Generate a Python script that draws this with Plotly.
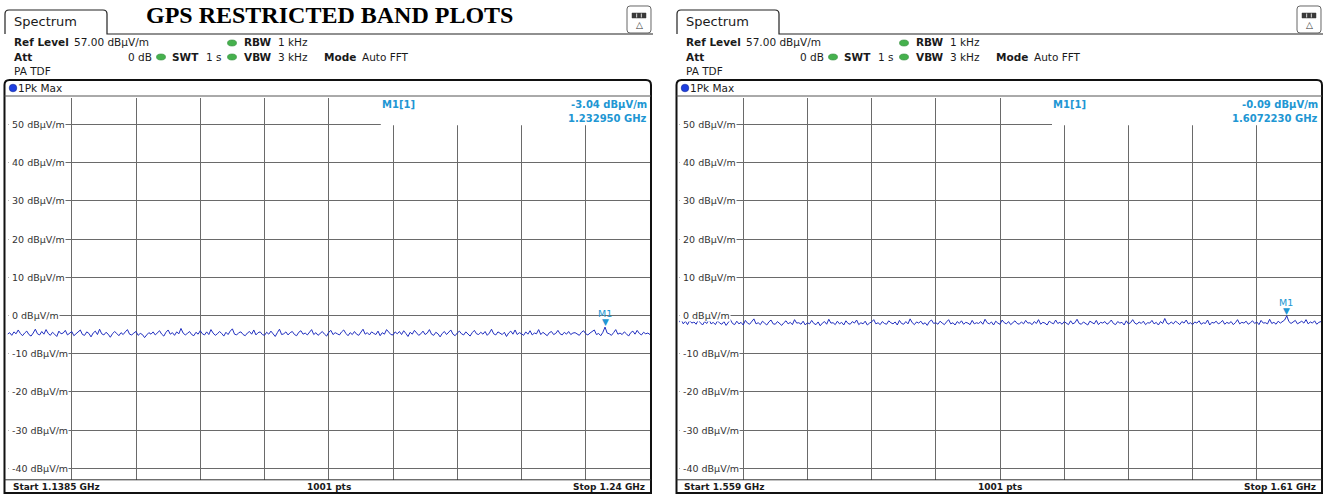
import numpy as np
import plotly.graph_objects as go

W, H = 1323, 498

# Analyzer settings shared by both sweeps
ref_level = 57.0                      # dBµV/m at the top of the display
y_ticks = [50, 40, 30, 20, 10, 0, -10, -20, -30, -40]
rbw_khz = 1
vbw_khz = 3
att_db = 0
swt_s = 1

start_ghz = [1.1385, 1.559]
stop_ghz = [1.24, 1.61]
sweep_pts = [1001, 1001]

# Max-hold peak trace, 1.1385 - 1.24 GHz (dBµV/m)
trace_low_band = [
    -4.9, -4.5, -5.2, -4.3, -4.8, -3.8, -4.7, -5.3, -4.6, -4.1, -5.0, -5.4, -4.6, -3.6, -4.8, -5.1, -4.2, -4.9, -3.7, -4.7,
    -5.2, -4.4, -4.9, -5.5, -4.1, -4.8, -4.6, -3.9, -5.1, -4.7, -4.2, -5.3, -4.8, -4.4, -3.8, -5.0, -5.2, -4.3, -4.7, -5.6,
    -4.6, -4.1, -5.0, -3.6, -4.8, -5.1, -4.4, -4.9, -5.7, -4.8, -4.2, -4.7, -5.3, -4.5, -5.0, -4.3, -3.7, -4.9, -5.1, -4.6,
    -4.2, -5.2, -4.7, -5.0, -5.8, -5.1, -4.5, -4.9, -4.3, -5.1, -4.6, -4.0, -4.9, -5.4, -4.4, -3.8, -4.9, -4.5, -5.2, -4.3,
    -4.8, -3.4, -4.6, -5.1, -4.7, -4.2, -5.0, -5.3, -4.4, -4.9, -4.0, -4.8, -5.1, -4.3, -5.0, -3.7, -4.6, -5.2, -4.8, -4.2,
    -4.7, -5.4, -4.4, -5.0, -4.1, -3.5, -4.9, -5.1, -4.5, -4.3, -5.0, -5.3, -4.6, -4.2, -4.9, -3.8, -5.1, -4.5, -4.3, -5.0,
    -5.2, -4.4, -4.9, -4.1, -4.8, -5.5, -4.5, -3.6, -5.0, -4.8, -4.3, -5.1, -4.5, -4.2, -5.0, -5.3, -4.4, -4.0, -4.9, -4.6,
    -5.1, -4.3, -3.7, -5.0, -4.5, -5.2, -4.6, -4.2, -4.9, -5.4, -4.4, -3.9, -5.0, -4.5, -4.8, -5.1, -4.3, -3.8, -4.7, -5.3,
    -4.5, -5.0, -4.2, -4.9, -5.2, -4.4, -3.6, -4.9, -4.5, -5.1, -4.3, -4.7, -5.0, -4.1, -5.3, -4.5, -4.9, -3.7, -4.4, -5.0,
    -5.1, -4.3, -4.8, -4.2, -5.0, -4.0, -4.7, -5.5, -4.4, -4.9, -3.9, -4.6, -5.2, -4.8, -4.1, -5.0, -4.6, -3.7, -4.9, -5.2,
    -4.4, -4.8, -5.6, -4.7, -4.2, -5.0, -4.5, -3.8, -4.9, -5.3, -4.6, -4.1, -4.8, -5.1, -4.3, -4.9, -5.4, -4.5, -3.9, -4.8,
    -5.0, -4.4, -4.9, -4.2, -5.2, -4.6, -3.6, -4.8, -5.1, -4.3, -4.7, -5.0, -4.4, -5.5, -4.6, -4.1, -4.9, -3.8, -5.0, -4.5,
    -4.8, -5.2, -4.3, -4.9, -4.0, -5.1, -4.6, -4.8, -3.7, -5.0, -4.4, -4.9, -5.3, -4.5, -4.2, -5.0, -4.7, -3.9, -4.8, -5.1,
    -4.4, -4.9, -4.2, -5.0, -4.6, -4.5, -4.9, -5.2, -4.4, -4.0, -4.8, -5.1, -4.6, -4.3, -3.8, -5.0, -4.7, -5.3, -4.4, -3.04,
    -4.6, -4.8, -5.2, -4.5, -3.7, -4.9, -4.6, -5.0, -4.3, -4.8, -5.4, -4.5, -4.1, -4.9, -3.9, -4.7, -5.1, -4.4, -4.8, -4.6,
    -5.0,
]

# Max-hold peak trace, 1.559 - 1.61 GHz (dBµV/m)
trace_high_band = [
    -1.8, -1.0, -2.2, -1.5, -2.4, -1.3, -2.0, -1.7, -2.3, -1.2, -1.9, -2.5, -1.6, -2.1, -1.0, -2.2, -1.8, -2.4, -1.4, -2.0,
    -2.3, -1.6, -2.6, -1.9, -1.1, -2.1, -2.4, -1.5, -2.2, -1.8, -2.5, -1.3, -2.0, -2.3, -1.6, -0.9, -2.2, -1.9, -2.4, -1.5,
    -2.0, -2.5, -1.7, -1.2, -2.2, -2.3, -1.6, -2.1, -2.6, -1.9, -1.4, -2.2, -1.8, -2.4, -1.1, -2.0, -1.9, -2.3, -1.5, -2.5,
    -1.9, -2.2, -1.3, -2.1, -2.4, -1.7, -2.7, -2.0, -1.6, -2.3, -1.0, -2.0, -1.9, -2.4, -1.5, -2.2, -1.8, -2.5, -1.4, -2.1,
    -2.3, -1.6, -2.0, -1.2, -2.4, -1.9, -2.2, -1.5, -2.5, -2.0, -1.7, -1.1, -2.2, -1.9, -2.4, -1.6, -2.1, -2.3, -1.4, -1.9,
    -2.2, -1.7, -2.5, -1.3, -2.1, -2.3, -1.6, -2.2, -0.9, -1.9, -2.4, -1.7, -2.0, -1.5, -2.3, -1.9, -2.6, -1.6, -1.2, -2.1,
    -1.9, -2.3, -1.5, -2.0, -2.4, -1.7, -1.1, -2.2, -1.9, -2.5, -1.6, -2.1, -1.4, -2.3, -1.8, -2.0, -2.4, -1.3, -2.2, -1.9,
    -2.1, -1.6, -2.3, -1.0, -1.9, -2.2, -1.7, -2.5, -1.5, -2.0, -2.3, -1.2, -1.9, -2.2, -1.6, -2.4, -1.9, -1.4, -2.1, -2.3,
    -1.7, -2.2, -1.3, -2.0, -1.9, -2.4, -1.6, -2.1, -1.1, -2.3, -1.8, -2.0, -2.5, -1.5, -1.9, -2.2, -1.2, -2.1, -1.8, -2.3,
    -1.6, -2.0, -2.4, -1.4, -2.2, -1.9, -1.0, -2.1, -2.3, -1.7, -2.0, -2.5, -1.5, -1.9, -2.2, -1.3, -2.4, -1.8, -2.0, -1.6,
    -2.3, -1.9, -1.2, -2.1, -2.4, -1.6, -2.0, -1.8, -2.5, -1.4, -2.2, -1.9, -1.1, -2.0, -2.3, -1.7, -2.1, -1.5, -2.4, -1.9,
    -2.0, -1.3, -2.2, -1.8, -2.5, -1.6, -2.1, -0.8, -2.0, -2.3, -1.7, -2.2, -1.5, -1.9, -2.4, -1.6, -2.0, -1.2, -2.2, -1.9,
    -2.4, -1.7, -2.0, -1.4, -2.3, -1.9, -2.1, -1.2, -2.5, -1.8, -2.0, -1.5, -2.2, -1.9, -1.3, -2.3, -1.8, -2.1, -1.6, -2.4,
    -1.9, -1.1, -2.2, -1.8, -2.0, -1.5, -2.3, -1.9, -1.4, -2.1, -1.7, -2.4, -1.3, -2.0, -1.9, -2.2, -1.0, -2.1, -1.8, -2.3,
    -1.5, -2.0, -1.7, -1.2, -0.09, -1.6, -2.1, -1.8, -1.3, -2.2, -1.9, -1.5, -2.0, -1.1, -2.2, -1.7, -2.0, -1.4, -2.3, -1.8,
    -1.6,
]

traces = [trace_low_band, trace_high_band]

marker_freq_ghz = [1.232950, 1.6072230]
marker_level = [-3.04, -0.09]
marker_freq_digits = [6, 7]

# ---------------------------------------------------------------- styling
FONT = "DejaVu Sans"
TRACE_BLUE = "#2230bf"
MARKER_BLUE = "#2196d3"
GRID = "#6a6a6a"
INK = "#1a1a1a"
LED_GREEN = "#45b14d"

PLOT_TOP, PLOT_BOTTOM = 97.6, 479.8
panels = [
    dict(dx=0, px0=7.5, px1=650.0, bx0=4.5, bx1=651.0, right=653.0),
    dict(dx=672, px0=679.0, px1=1321.0, bx0=676.5, bx1=1322.0, right=1323.0),
]


def fx(x):
    return x / W


def fy(y):
    return 1 - y / H


def pt(x, y):
    return f"{fx(x):.6f},{fy(y):.6f}"


def text(t, x, y, size=10.5, bold=False, color=INK, xanchor="left", family=FONT):
    return dict(text=f"<b>{t}</b>" if bold else t, x=fx(x), y=fy(y), xref="paper", yref="paper",
                xanchor=xanchor, yanchor="middle", showarrow=False, borderpad=0,
                font=dict(family=family, size=size, color=color))


def dot(cx, cy, rx, ry, color, edge):
    return dict(type="circle", xref="paper", yref="paper", x0=fx(cx - rx), x1=fx(cx + rx),
                y0=fy(cy + ry), y1=fy(cy - ry), fillcolor=color, line=dict(color=edge, width=0.6))


fig = go.Figure()
annotations = []
shapes = []
layout_axes = {}

for i, p in enumerate(panels):
    n = "" if i == 0 else str(i + 1)
    dx = p["dx"]
    start, stop = start_ghz[i], stop_ghz[i]
    levels = traces[i]
    freqs = np.linspace(start, stop, len(levels))

    layout_axes[f"xaxis{n}"] = dict(
        domain=[fx(p["px0"]), fx(p["px1"])], range=[start, stop],
        tickvals=list(np.linspace(start, stop, 11)), showticklabels=False, ticks="",
        showgrid=True, gridcolor=GRID, gridwidth=1, zeroline=False, showline=False,
        anchor=f"y{n}", fixedrange=True)
    layout_axes[f"yaxis{n}"] = dict(
        domain=[fy(PLOT_BOTTOM), fy(PLOT_TOP)], range=[ref_level - 100, ref_level],
        tickvals=y_ticks, showticklabels=False, ticks="",
        showgrid=True, gridcolor=GRID, gridwidth=1, zeroline=False, showline=False,
        anchor=f"x{n}", fixedrange=True)

    fig.add_trace(go.Scatter(x=freqs, y=levels, mode="lines", xaxis=f"x{n}", yaxis=f"y{n}",
                             line=dict(color=TRACE_BLUE, width=1), hoverinfo="skip", showlegend=False))

    # marker info area hides grid at the top right of the diagram
    shapes.append(dict(type="rect", xref=f"x{n} domain", yref=f"y{n}", x0=0.581, x1=1.0,
                       y0=49.75, y1=ref_level, fillcolor="white", line=dict(width=0), layer="above"))

    # "Spectrum" tab and the header rule
    x0, x1 = 5 + dx, 107 + dx
    shapes.append(dict(type="path", xref="paper", yref="paper",
                       path=(f"M {pt(x0, 34)} L {pt(x0, 14)} Q {pt(x0, 10)} {pt(x0 + 4, 10)} "
                             f"L {pt(x1 - 4, 10)} Q {pt(x1, 10)} {pt(x1, 14)} L {pt(x1, 34)} "
                             f"L {pt(p['right'], 34)}"),
                       line=dict(color="#222", width=1.2)))
    annotations.append(text("Spectrum", 13 + dx, 22, size=13))

    # display icon at the top right
    ix0, ix1 = p["right"] - 26, p["right"] - 2
    shapes.append(dict(type="path", xref="paper", yref="paper",
                       path=(f"M {pt(ix0 + 3, 6)} L {pt(ix1 - 3, 6)} Q {pt(ix1, 6)} {pt(ix1, 9)} "
                             f"L {pt(ix1, 30)} Q {pt(ix1, 33)} {pt(ix1 - 3, 33)} L {pt(ix0 + 3, 33)} "
                             f"Q {pt(ix0, 33)} {pt(ix0, 30)} L {pt(ix0, 9)} Q {pt(ix0, 6)} {pt(ix0 + 3, 6)} Z"),
                       fillcolor="white", line=dict(color="#666", width=1)))
    shapes.append(dict(type="rect", xref="paper", yref="paper", x0=fx(ix0 + 5), x1=fx(ix1 - 5),
                       y0=fy(18), y1=fy(13), fillcolor="#3a3a3a", line=dict(color="#3a3a3a", width=0.5)))
    for k in (1, 2):
        sx = ix0 + 5 + k * (ix1 - ix0 - 10) / 3
        shapes.append(dict(type="line", xref="paper", yref="paper", x0=fx(sx), x1=fx(sx),
                           y0=fy(17.5), y1=fy(13.5), line=dict(color="#ddd", width=1)))
    annotations.append(text("△", (ix0 + ix1) / 2, 25.5, size=9, color="#333", xanchor="center"))

    # instrument settings
    annotations += [
        text("Ref Level", 13 + dx, 42.5, bold=True),
        text(f"{ref_level:.2f} dBµV/m", 73 + dx, 42.5),
        text("RBW", 243 + dx, 42.5, bold=True),
        text(f"{rbw_khz} kHz", 277 + dx, 42.5),
        text("Att", 13 + dx, 57, bold=True),
        text(f"{att_db} dB", 153 + dx, 57, xanchor="right"),
        text("SWT", 171 + dx, 57, bold=True),
        text(f"{swt_s} s", 205 + dx, 57),
        text("VBW", 243 + dx, 57, bold=True),
        text(f"{vbw_khz} kHz", 277 + dx, 57),
        text("Mode", 323 + dx, 57, bold=True),
        text("Auto FFT", 361 + dx, 57),
        text("PA TDF", 13 + dx, 71),
        text("1Pk Max", 17 + dx, 88),
    ]
    for cx, cy in [(232, 43), (161, 57), (232, 57)]:
        shapes.append(dot(cx + dx, cy, 4.5, 3, LED_GREEN, "#2f8a37"))

    # trace window frame
    bx0, bx1, top, bottom, r = p["bx0"], p["bx1"], 80, 493, 5
    shapes.append(dict(type="path", xref="paper", yref="paper",
                       path=(f"M {pt(bx0, bottom)} L {pt(bx0, top + r)} Q {pt(bx0, top)} {pt(bx0 + r, top)} "
                             f"L {pt(bx1 - r, top)} Q {pt(bx1, top)} {pt(bx1, top + r)} L {pt(bx1, bottom)} Z"),
                       line=dict(color="#111", width=2)))
    shapes.append(dict(type="line", xref="paper", yref="paper", x0=fx(bx0), x1=fx(bx1),
                       y0=fy(96), y1=fy(96), line=dict(color="#555", width=1)))
    shapes.append(dict(type="line", xref="paper", yref="paper", x0=fx(bx0), x1=fx(bx1),
                       y0=fy(PLOT_BOTTOM), y1=fy(PLOT_BOTTOM), line=dict(color="#333", width=1)))
    shapes.append(dot(13 + dx, 88, 3.8, 3.8, "#1e3fe0", "#10289a"))

    # level labels sitting on the grid lines
    for v in y_ticks:
        annotations.append(dict(text=f"\u00a0{v} dBµV/m", xref=f"x{n} domain", x=0, xshift=0,
                                yref=f"y{n}", y=v, xanchor="left", yanchor="middle",
                                showarrow=False, bgcolor="white", borderpad=0, height=11,
                                font=dict(family=FONT, size=9.5, color="#333")))

    # marker M1 readout
    mf, ml = marker_freq_ghz[i], marker_level[i]
    annotations += [
        dict(text="<b>M1[1]</b>", xref=f"x{n} domain", x=0.581, xshift=0, yref="paper", y=fy(105),
             xanchor="left", yanchor="middle", showarrow=False, borderpad=0,
             font=dict(family=FONT, size=10, color=MARKER_BLUE)),
        dict(text=f"<b>{ml:.2f} dBµV/m</b>", xref=f"x{n} domain", x=1, xshift=-2, yref="paper", y=fy(105),
             xanchor="right", yanchor="middle", showarrow=False, borderpad=0,
             font=dict(family=FONT, size=10, color=MARKER_BLUE)),
        dict(text=f"<b>{mf:.{marker_freq_digits[i]}f} GHz</b>", xref=f"x{n} domain", x=1, xshift=-2,
             yref="paper", y=fy(118), xanchor="right", yanchor="middle", showarrow=False, borderpad=0,
             font=dict(family=FONT, size=10, color=MARKER_BLUE)),
        dict(text="▼", xref=f"x{n}", x=mf, yref=f"y{n}", y=ml, xanchor="center", yanchor="bottom",
             yshift=-1, showarrow=False, borderpad=0, font=dict(family=FONT, size=9, color=MARKER_BLUE)),
        dict(text="M1", xref=f"x{n}", x=mf, yref=f"y{n}", y=ml, xanchor="center", yanchor="bottom",
             yshift=7, showarrow=False, borderpad=0, font=dict(family=FONT, size=9.5, color=MARKER_BLUE)),
    ]

    # sweep footer
    annotations += [
        dict(text=f"<b>Start {start:g} GHz</b>", xref=f"x{n} domain", x=0, xshift=4, yref="paper", y=fy(487),
             xanchor="left", yanchor="middle", showarrow=False, borderpad=0,
             font=dict(family=FONT, size=9, color=INK)),
        dict(text=f"<b>{sweep_pts[i]} pts</b>", xref=f"x{n} domain", x=0.5, yref="paper", y=fy(487),
             xanchor="center", yanchor="middle", showarrow=False, borderpad=0,
             font=dict(family=FONT, size=9, color=INK)),
        dict(text=f"<b>Stop {stop:g} GHz</b>", xref=f"x{n} domain", x=1, xshift=-4, yref="paper", y=fy(487),
             xanchor="right", yanchor="middle", showarrow=False, borderpad=0,
             font=dict(family=FONT, size=9, color=INK)),
    ]

annotations.append(text("GPS RESTRICTED BAND PLOTS", 329, 14.5, size=24, bold=True, color="#000",
                        xanchor="center", family="Liberation Serif"))

fig.update_layout(
    width=W, height=H, margin=dict(l=0, r=0, t=0, b=0),
    paper_bgcolor="white", plot_bgcolor="white",
    showlegend=False, hovermode=False,
    annotations=annotations, shapes=shapes,
    **layout_axes,
)

fig.write_html("out.html", config={"displayModeBar": False})
